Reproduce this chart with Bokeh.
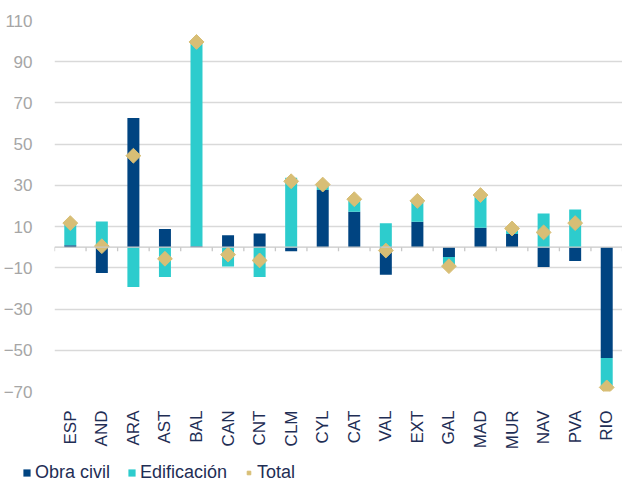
import math
from bokeh.plotting import figure
from bokeh.layouts import column, row
from bokeh.models import (ColumnDataSource, FixedTicker, Span, Legend, LegendItem, Range1d, FactorRange)
from bokeh.embed import file_html
from bokeh.resources import INLINE

# ---- data ----
regions = ["ESP", "AND", "ARA", "AST", "BAL", "CAN", "CNT", "CLM", "CYL",
           "CAT", "VAL", "EXT", "GAL", "MAD", "MUR", "NAV", "PVA", "RIO"]
obra_civil = [0.9, -12.5, 62.7, 8.8, 0.5, 5.8, 6.7, -1.9, 27.8,
              17.2, -13.3, 12.3, -4.8, 9.4, 6.4, -9.6, -6.7, -53.8]
edificacion = [10.8, 12.5, -19.3, -14.5, 99.0, -9.3, -14.5, 33.7, 2.0,
               5.3, 11.6, 9.9, -4.4, 15.5, 2.4, 16.4, 18.3, -14.2]
total = [11.7, 0.5, 44.4, -5.6, 99.6, -3.6, -6.4, 32.0, 30.4,
         23.3, -1.6, 22.5, -9.2, 25.3, 9.1, 7.2, 11.7, -68.0]
y_ticks = [-70, -50, -30, -10, 10, 30, 50, 70, 90, 110]
series_names = ["Obra civil", "Edificación", "Total"]

# ---- colours / styles ----
C_OBRA = "#004481"
C_EDIF = "#2DCCCD"
C_TOTAL = "#D8BE75"
C_GRID = "#D9D9D9"
C_TICK = "#A6A6A6"
C_TEXT = "#1F2E55"
FONT = "Arial"

# Excel-style stacking: positives stack up, negatives stack down separately
e_bottom = []
for o, e in zip(obra_civil, edificacion):
    e_bottom.append(o if (o >= 0) == (e >= 0) else 0.0)
e_top = [b + e for b, e in zip(e_bottom, edificacion)]

src = ColumnDataSource(dict(
    x=regions,
    obra=obra_civil,
    zero=[0.0] * len(regions),
    eb=e_bottom,
    et=e_top,
    total=total,
))

p = figure(
    x_range=FactorRange(*regions, range_padding=0),
    y_range=Range1d(-70, 110),
    width=622, height=452,
    min_border_left=54, min_border_right=0, min_border_top=20, min_border_bottom=59,
    output_backend="svg", toolbar_location=None,
)
p.outline_line_color = None
p.background_fill_color = "white"
p.border_fill_color = "white"

# grid
p.xgrid.grid_line_color = None
p.ygrid.grid_line_color = C_GRID
p.ygrid.grid_line_width = 1.5

# y axis
p.yaxis.ticker = FixedTicker(ticks=y_ticks)
p.yaxis.axis_line_color = None
p.yaxis.major_tick_line_color = None
p.yaxis.minor_tick_line_color = None
p.yaxis.major_label_text_color = C_TICK
p.yaxis.major_label_text_font = FONT
p.yaxis.major_label_text_font_size = "17px"
p.yaxis.major_label_standoff = 16

# x axis (labels only, vertical)
p.xaxis.axis_line_color = None
p.xaxis.major_tick_line_color = None
p.xaxis.minor_tick_line_color = None
p.xaxis.major_label_orientation = math.pi / 2
p.xaxis.major_label_text_color = C_TEXT
p.xaxis.major_label_text_font = FONT
p.xaxis.major_label_text_font_size = "17px"
p.xaxis.major_label_standoff = 13

# zero axis line with tick marks at category boundaries
p.add_layout(Span(location=0, dimension="width", line_color="#C8C8C8", line_width=1.3))
bounds = [(r, -0.5) for r in regions] + [(regions[-1], 0.5)]
p.segment(x0=bounds, y0=[0] * len(bounds), x1=bounds, y1=[-2.0] * len(bounds),
          line_color="#C8C8C8", line_width=1.3)

bw = 0.38
p.vbar(x="x", top="obra", bottom="zero", width=bw, source=src,
       fill_color=C_OBRA, line_color=None)
p.vbar(x="x", top="et", bottom="eb", width=bw, source=src,
       fill_color=C_EDIF, line_color=None)
p.scatter(x="x", y="total", source=src, marker="square", angle=math.pi / 4,
          size=10.5, fill_color=C_TOTAL, line_color=C_TOTAL)

# ---- legend strip (separate axis-less figure below the chart) ----
lg = figure(width=622, height=31, x_range=Range1d(0, 1), y_range=Range1d(0, 1),
            x_axis_type=None, y_axis_type=None,
            min_border=0, output_backend="svg", toolbar_location=None)
lg.grid.visible = False
lg.outline_line_color = None
nan = float("nan")
proxy = ColumnDataSource(dict(x=[nan], y=[nan], t=[nan], b=[nan]))  # legend proxies only
l_obra = lg.vbar(x="x", top="t", bottom="b", width=0.1, source=proxy,
                 fill_color=C_OBRA, line_color=None)
l_edif = lg.vbar(x="x", top="t", bottom="b", width=0.1, source=proxy,
                 fill_color=C_EDIF, line_color=None)
l_tot = lg.scatter(x="x", y="y", source=proxy, marker="square", angle=math.pi / 4,
                   size=10.5, fill_color=C_TOTAL, line_color=C_TOTAL)

legend = Legend(items=[
    LegendItem(label=series_names[0], renderers=[l_obra]),
    LegendItem(label=series_names[1], renderers=[l_edif]),
    LegendItem(label=series_names[2], renderers=[l_tot]),
], location=(22, 0), orientation="horizontal")
legend.label_text_font = FONT
legend.label_text_font_size = "18px"
legend.label_text_color = C_TEXT
legend.glyph_width = 9
legend.glyph_height = 9
legend.label_standoff = 4
legend.spacing = 17
legend.padding = 0
legend.margin = 0
legend.border_line_color = None
legend.background_fill_alpha = 0
lg.add_layout(legend, "center")

open("out.html", "w").write(file_html(column(p, row(lg), spacing=0), INLINE))
